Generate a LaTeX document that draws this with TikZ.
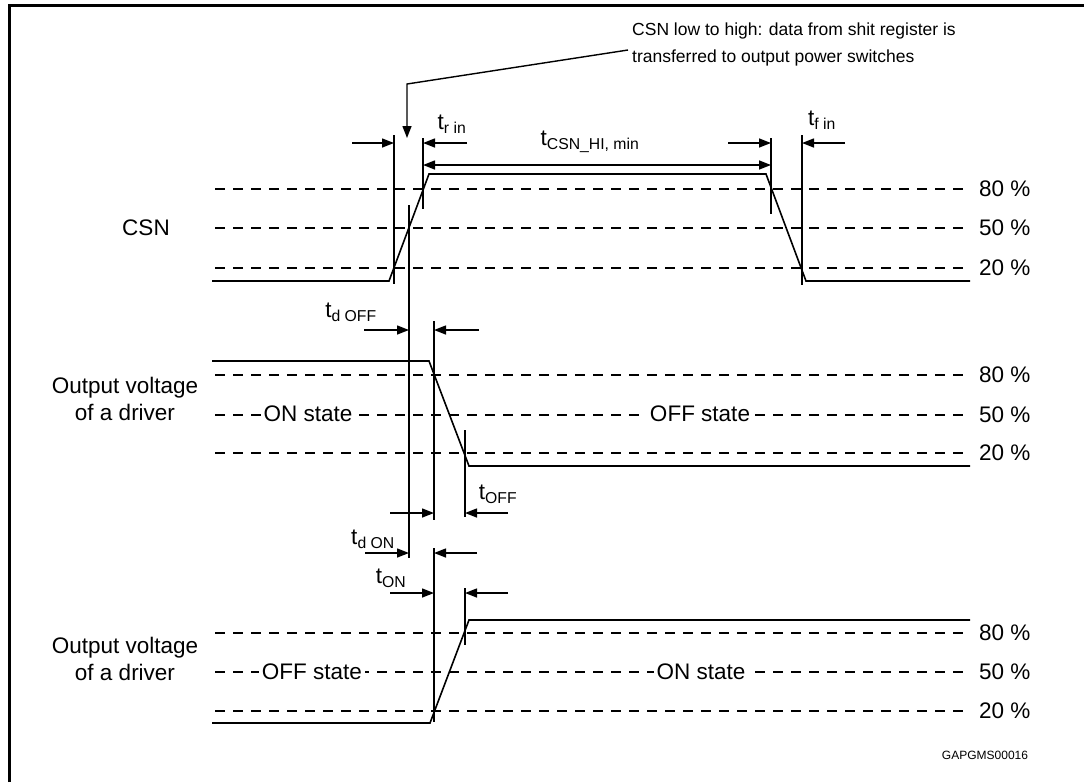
\documentclass[tikz,border=0pt]{standalone}
\usepackage{fontspec}
\setmainfont{Liberation Sans}
\usetikzlibrary{arrows.meta}
\begin{document}
\begin{tikzpicture}[x=1pt,y=-1pt,
  frame/.style={line width=3pt},
  sig/.style={line width=1.6pt},
  lvl/.style={line width=1.4pt, dash pattern=on 10pt off 8pt},
  vline/.style={line width=1.5pt},
  dim/.style={line width=1.4pt,-{Triangle[length=12pt,width=9pt]}},
  ddim/.style={line width=1.4pt,{Triangle[length=12pt,width=9pt]}-{Triangle[length=12pt,width=9pt]}},
  txt/.style={font=\fontsize{22.5}{27}\selectfont, inner sep=0pt},
  stxt/.style={txt, fill=white, inner xsep=3pt, inner ysep=2pt},
  pct/.style={txt, anchor=west},
  tlab/.style={txt}
]
\useasboundingbox (0,0) rectangle (1084,782);
% frame
\draw[frame] (9,782) -- (9,5) -- (1084,5);

% ---------------- CSN ----------------
\foreach \y/\n in {189/c80,228/c50,268/c20} {
  \coordinate (\n a) at (215,\y); \coordinate (\n b) at (969,\y);
  \draw[lvl] (\n a) -- (\n b);
}
\node[pct] (p1) at (979,189) {80 \%};
\node[pct] (p2) at (979,228) {50 \%};
\node[pct] (p3) at (979,268) {20 \%};
\node[stxt] (csn) at (146,228) {CSN};

\coordinate (c0) at (212,281); \coordinate (c1) at (389,281);
\coordinate (c2) at (429,174); \coordinate (c3) at (766,174);
\coordinate (c4) at (806,281); \coordinate (c5) at (970,281);
\draw[sig] (c0) -- (c1) -- (c2) -- (c3) -- (c4) -- (c5);

% vertical markers CSN
\coordinate (v1t) at (394,135); \coordinate (v1b) at (394,284);
\coordinate (v2t) at (423,138); \coordinate (v2b) at (423,209);
\coordinate (v3t) at (409,205); \coordinate (v3b) at (409,558);
\coordinate (v4t) at (771,138); \coordinate (v4b) at (771,214);
\coordinate (v5t) at (802,135); \coordinate (v5b) at (802,285);
\draw[vline] (v1t) -- (v1b);
\draw[vline] (v2t) -- (v2b);
\draw[vline] (v3t) -- (v3b);
\draw[vline] (v4t) -- (v4b);
\draw[vline] (v5t) -- (v5b);

\coordinate (a1s) at (352,143); \coordinate (a1e) at (394,143);
\coordinate (a2s) at (467,143); \coordinate (a2e) at (423,143);
\coordinate (a3s) at (728,143); \coordinate (a3e) at (771,143);
\coordinate (a4s) at (845,143); \coordinate (a4e) at (802,143);
\coordinate (d1s) at (423,165); \coordinate (d1e) at (771,165);
\draw[dim] (a1s) -- (a1e);
\draw[dim] (a2s) -- (a2e);
\draw[dim] (a3s) -- (a3e);
\draw[dim] (a4s) -- (a4e);
\draw[ddim] (d1s) -- (d1e);

\node[tlab] (trin) at (452,124) {t\textsubscript{r in}};
\node[tlab] (thi) at (590,142) {t\textsubscript{CSN\_HI, min}};
\node[tlab] (tfin) at (822,120) {t\textsubscript{f in}};

% annotation
\node[font=\fontsize{17.5}{27}\selectfont, inner sep=0pt, anchor=north west, align=left] (note) at (632,23) {CSN low to high: data from shit register is\\transferred to output power switches};
\coordinate (n1) at (628,50); \coordinate (n2) at (407,84); \coordinate (n3) at (407,138);
\draw[line width=1.4pt,-{Triangle[length=12pt,width=9pt]}] (n1) -- (n2) -- (n3);

% ---------------- Output 1 ----------------
\foreach \y/\n in {375/o80,415/o50,453/o20} {
  \coordinate (\n a) at (215,\y); \coordinate (\n b) at (969,\y);
  \draw[lvl] (\n a) -- (\n b);
}
\node[pct] (p4) at (979,375) {80 \%};
\node[pct] (p5) at (979,415) {50 \%};
\node[pct] (p6) at (979,453) {20 \%};
\node[txt, align=center] (ov1) at (125,399) {Output voltage\\of a driver};
\node[stxt] (on1) at (308,414) {ON state};
\node[stxt] (off1) at (700,414) {OFF state};

\coordinate (o0) at (212,361); \coordinate (o1) at (429,361);
\coordinate (o2) at (469,466); \coordinate (o3) at (970,466);
\draw[sig] (o0) -- (o1) -- (o2) -- (o3);

\coordinate (w1t) at (434,321); \coordinate (w1b) at (434,520);
\coordinate (w2t) at (465,430); \coordinate (w2b) at (465,517);
\draw[vline] (w1t) -- (w1b);
\draw[vline] (w2t) -- (w2b);

\coordinate (b1s) at (364,330); \coordinate (b1e) at (409,330);
\coordinate (b2s) at (479,330); \coordinate (b2e) at (434,330);
\coordinate (b3s) at (390,513); \coordinate (b3e) at (434,513);
\coordinate (b4s) at (508,513); \coordinate (b4e) at (465,513);
\draw[dim] (b1s) -- (b1e);
\draw[dim] (b2s) -- (b2e);
\draw[dim] (b3s) -- (b3e);
\draw[dim] (b4s) -- (b4e);
\node[tlab] (tdoff) at (351,312) {t\textsubscript{d OFF}};
\node[tlab] (toff) at (498,494) {t\textsubscript{OFF}};

% ---------------- Output 2 ----------------
\foreach \y/\n in {633/q80,672/q50,711/q20} {
  \coordinate (\n a) at (215,\y); \coordinate (\n b) at (969,\y);
  \draw[lvl] (\n a) -- (\n b);
}
\node[pct] (p7) at (979,633) {80 \%};
\node[pct] (p8) at (979,672) {50 \%};
\node[pct] (p9) at (979,711) {20 \%};
\node[txt, align=center] (ov2) at (125,659) {Output voltage\\of a driver};
\node[stxt] (off2) at (312,672) {OFF state};
\node[stxt] (on2) at (701,672) {ON state};

\coordinate (q0) at (212,723); \coordinate (q1) at (430,723);
\coordinate (q2) at (469,620); \coordinate (q3) at (970,620);
\draw[sig] (q0) -- (q1) -- (q2) -- (q3);

\coordinate (x1t) at (434,548); \coordinate (x1b) at (434,722);
\coordinate (x2t) at (465,588); \coordinate (x2b) at (465,645);
\draw[vline] (x1t) -- (x1b);
\draw[vline] (x2t) -- (x2b);

\coordinate (e1s) at (365,553); \coordinate (e1e) at (409,553);
\coordinate (e2s) at (477,553); \coordinate (e2e) at (434,553);
\coordinate (e3s) at (390,593); \coordinate (e3e) at (434,593);
\coordinate (e4s) at (508,593); \coordinate (e4e) at (465,593);
\draw[dim] (e1s) -- (e1e);
\draw[dim] (e2s) -- (e2e);
\draw[dim] (e3s) -- (e3e);
\draw[dim] (e4s) -- (e4e);
\node[tlab] (tdon) at (373,539) {t\textsubscript{d ON}};
\node[tlab] (ton) at (391,578) {t\textsubscript{ON}};

\node[font=\fontsize{12}{14}\selectfont, inner sep=0pt] (code) at (985,755) {GAPGMS00016};
\end{tikzpicture}
\end{document}
